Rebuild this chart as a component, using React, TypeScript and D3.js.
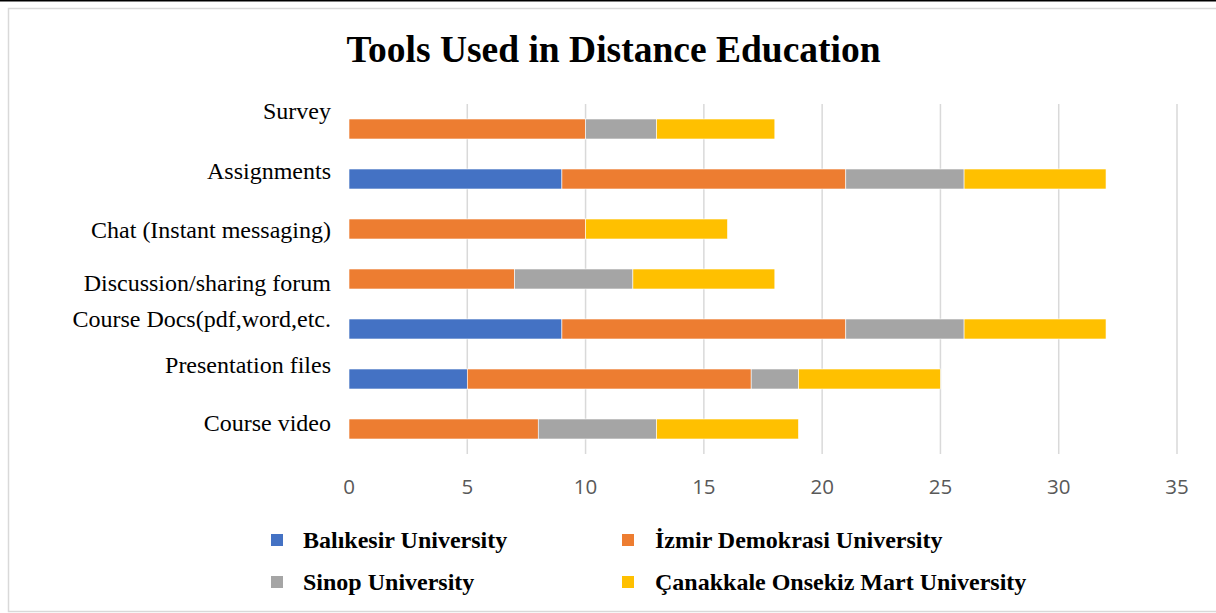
import React, { useEffect, useRef } from 'react';
import * as d3 from 'd3';

const categories = [
  'Survey',
  'Assignments',
  'Chat (Instant messaging)',
  'Discussion/sharing forum',
  'Course Docs(pdf,word,etc.',
  'Presentation files',
  'Course video',
];
const seriesNames = [
  'Balıkesir University',
  'İzmir Demokrasi University',
  'Sinop University',
  'Çanakkale Onsekiz Mart University',
];
const balikesir = [0, 9, 0, 0, 9, 5, 0];
const izmir = [10, 12, 10, 7, 12, 12, 8];
const sinop = [3, 5, 0, 5, 5, 2, 5];
const canakkale = [5, 6, 6, 6, 6, 6, 6];
const xTicks = [0, 5, 10, 15, 20, 25, 30, 35];

// the category labels in the source sit a little off the bar centres
const labelNudge = [-10, 0, 9, 12, -2, -6, 2];
const colors = ['#4472C4', '#ED7D31', '#A5A5A5', '#FFC000'];

const W = 1216;
const H = 613;

const App: React.FC = () => {
  const ref = useRef<SVGSVGElement | null>(null);

  useEffect(() => {
    document.body.style.margin = '0';
    if (!ref.current) return;
    const svg = d3.select(ref.current);
    svg.selectAll('*').remove();

    const rows = categories.map((c, i) => ({
      cat: c,
      s0: balikesir[i],
      s1: izmir[i],
      s2: sinop[i],
      s3: canakkale[i],
    }));
    const keys = ['s0', 's1', 's2', 's3'];
    const stacked = d3.stack<any>().keys(keys)(rows);

    const x = d3.scaleLinear().domain([0, 35]).range([349, 1177]);
    const y = d3
      .scaleBand<string>()
      .domain(categories)
      .range([104, 454])
      .paddingInner(0.6)
      .paddingOuter(0.3);

    // frame
    svg.append('rect')
      .attr('x', 8.5).attr('y', 8.5)
      .attr('width', W + 10).attr('height', H - 10)
      .attr('fill', '#fff')
      .attr('stroke', '#D9D9D9')
      .attr('stroke-width', 1.5);
    svg.append('line')
      .attr('x1', 0).attr('x2', W)
      .attr('y1', 0.75).attr('y2', 0.75)
      .attr('stroke', '#000')
      .attr('stroke-width', 1.5);

    // title
    svg.append('text')
      .attr('x', 613.5).attr('y', 62)
      .attr('text-anchor', 'middle')
      .attr('font-family', '"Liberation Serif", "Times New Roman", serif')
      .attr('font-weight', 'bold')
      .attr('font-size', 37.5)
      .text('Tools Used in Distance Education');

    // gridlines
    svg.append('g')
      .selectAll('line')
      .data(xTicks.filter(t => t > 0))
      .join('line')
      .attr('x1', d => x(d)).attr('x2', d => x(d))
      .attr('y1', 104).attr('y2', 454)
      .attr('stroke', '#D9D9D9')
      .attr('stroke-width', 1.5);

    // bars
    svg.append('g')
      .selectAll('g')
      .data(stacked)
      .join('g')
      .attr('fill', (_d, i) => colors[i])
      .selectAll('rect')
      .data(d => d.filter(p => p[1] - p[0] > 0))
      .join('rect')
      .attr('x', d => x(d[0]))
      .attr('width', d => x(d[1]) - x(d[0]))
      .attr('y', d => y(d.data.cat) as number)
      .attr('height', y.bandwidth())
      .attr('stroke', '#fff')
      .attr('stroke-width', 0.6);

    // x tick labels
    svg.append('g')
      .selectAll('text')
      .data(xTicks)
      .join('text')
      .attr('x', d => x(d))
      .attr('y', 494)
      .attr('text-anchor', 'middle')
      .attr('font-family', '"Open Sans", sans-serif')
      .attr('font-size', 20.5)
      .attr('fill', '#595959')
      .text(d => d);

    // category labels
    svg.append('g')
      .selectAll('text')
      .data(categories)
      .join('text')
      .attr('x', 331)
      .attr('y', (d, i) => (y(d) as number) + y.bandwidth() / 2 + labelNudge[i])
      .attr('text-anchor', 'end')
      .attr('font-family', '"Liberation Serif", "Times New Roman", serif')
      .attr('font-size', 24)
      .attr('fill', '#000')
      .text(d => d);

    // legend
    const legendPos = [
      { sx: 271, tx: 303, ty: 548 },
      { sx: 622, tx: 655, ty: 548 },
      { sx: 271, tx: 303, ty: 590 },
      { sx: 622, tx: 655, ty: 590 },
    ];
    const lg = svg.append('g')
      .selectAll('g')
      .data(seriesNames)
      .join('g');
    lg.append('rect')
      .attr('x', (_d, i) => legendPos[i].sx)
      .attr('y', (_d, i) => legendPos[i].ty - 14)
      .attr('width', 12).attr('height', 12)
      .attr('fill', (_d, i) => colors[i]);
    lg.append('text')
      .attr('x', (_d, i) => legendPos[i].tx)
      .attr('y', (_d, i) => legendPos[i].ty)
      .attr('font-family', '"Liberation Serif", "Times New Roman", serif')
      .attr('font-weight', 'bold')
      .attr('font-size', 24)
      .text(d => d);
  }, []);

  return <svg ref={ref} width={W} height={H} style={{ display: 'block' }} />;
};

export default App;
